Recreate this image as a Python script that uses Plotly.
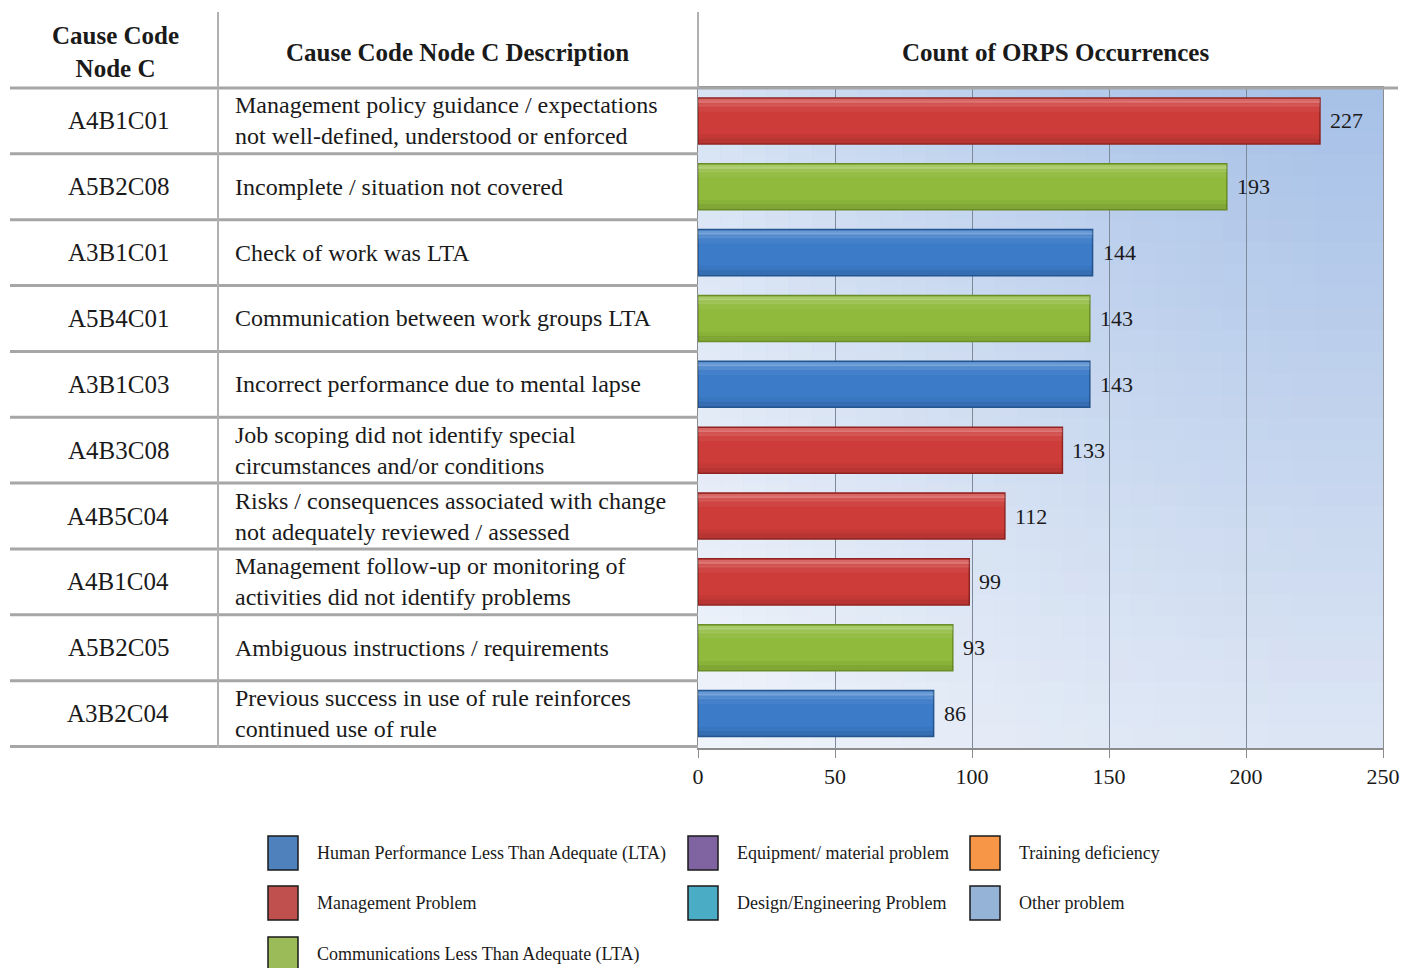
import plotly.graph_objects as go

# ---------------- data ----------------
codes = ["A4B1C01", "A5B2C08", "A3B1C01", "A5B4C01", "A3B1C03",
         "A4B3C08", "A4B5C04", "A4B1C04", "A5B2C05", "A3B2C04"]
descriptions = [
    "Management policy guidance / expectations<br>not well-defined, understood or enforced",
    "Incomplete / situation not covered",
    "Check of work was LTA",
    "Communication between work groups LTA",
    "Incorrect performance due to mental lapse",
    "Job scoping did not identify special<br>circumstances and/or conditions",
    "Risks / consequences associated with change<br>not adequately reviewed / assessed",
    "Management follow-up or monitoring of<br>activities did not identify problems",
    "Ambiguous instructions / requirements",
    "Previous success in use of rule reinforces<br>continued use of rule",
]
counts = [227, 193, 144, 143, 143, 133, 112, 99, 93, 86]
problem_type = ["Management Problem", "Communications Less Than Adequate (LTA)",
                "Human Performance Less Than Adequate (LTA)", "Communications Less Than Adequate (LTA)",
                "Human Performance Less Than Adequate (LTA)", "Management Problem",
                "Management Problem", "Management Problem",
                "Communications Less Than Adequate (LTA)", "Human Performance Less Than Adequate (LTA)"]
x_ticks = [0, 50, 100, 150, 200, 250]

legend_columns = [
    ["Human Performance Less Than Adequate (LTA)", "Management Problem",
     "Communications Less Than Adequate (LTA)"],
    ["Equipment/ material problem", "Design/Engineering Problem"],
    ["Training deficiency", "Other problem"],
]
legend_colors = {
    "Human Performance Less Than Adequate (LTA)": "#4F81BD",
    "Management Problem": "#C0504D",
    "Communications Less Than Adequate (LTA)": "#9BBB59",
    "Equipment/ material problem": "#8064A2",
    "Design/Engineering Problem": "#4BACC6",
    "Training deficiency": "#F79646",
    "Other problem": "#95B3D7",
}
bar_fill = {
    "Human Performance Less Than Adequate (LTA)": "#3B7BC8",
    "Management Problem": "#CD3C39",
    "Communications Less Than Adequate (LTA)": "#8FBA3C",
}
bar_edge = {
    "Human Performance Less Than Adequate (LTA)": "#24558F",
    "Management Problem": "#8F2422",
    "Communications Less Than Adequate (LTA)": "#6A8D27",
}

# ---------------- layout constants ----------------
W, H = 1401, 968
SERIF = "Liberation Serif"
TXT = "#1a1a1a"
def px_x(p): return p / W
def px_y(p): return 1 - p / H

x_dom = [px_x(698), px_x(1383)]
y_dom = [px_y(748), px_y(88)]

fig = go.Figure()
fig.add_trace(go.Bar(
    x=counts, y=codes, orientation="h", width=0.7,
    marker=dict(color=[bar_fill[t] for t in problem_type],
                line=dict(color=[bar_edge[t] for t in problem_type], width=1.5)),
    hoverinfo="x+y", showlegend=False,
))
# soft 3D-style highlight (top) and shade (bottom) layered on the same bars
for off, wid, col in [(-0.335, 0.06, "rgba(255,255,255,0.22)"),
                      (-0.30, 0.08, "rgba(255,255,255,0.12)"),
                      (-0.24, 0.10, "rgba(255,255,255,0.05)"),
                      (0.20, 0.08, "rgba(0,0,0,0.04)"),
                      (0.27, 0.07, "rgba(0,0,0,0.10)")]:
    fig.add_trace(go.Bar(
        x=counts, y=codes, orientation="h", width=wid, offset=off,
        marker=dict(color=col, line_width=0),
        hoverinfo="skip", showlegend=False,
    ))

shapes = []
annotations = []

# background gradient (plot area)
def lerp(c1, c2, t):
    a = [int(c1[i:i + 2], 16) for i in (1, 3, 5)]
    b = [int(c2[i:i + 2], 16) for i in (1, 3, 5)]
    return "#%02x%02x%02x" % tuple(round(a[k] + (b[k] - a[k]) * t) for k in range(3))

n = 30
for i in range(n):
    t = i / (n - 1)
    shapes.append(dict(type="rect", xref="x domain", yref="y domain",
                       x0=0, x1=1, y0=1 - (i + 1) / n, y1=1 - i / n,
                       fillcolor=lerp("#A7C1E7", "#DCE5F4", t), line_width=0, layer="below"))
for i in range(n):
    t = i / (n - 1)
    shapes.append(dict(type="rect", xref="x domain", yref="y domain",
                       x0=i / n, x1=(i + 1) / n, y0=0, y1=1,
                       fillcolor="white", opacity=0.55 * (1 - t) ** 1.5, line_width=0, layer="below"))

# table lines
line_col = "#A6A6A6"
shapes.append(dict(type="line", xref="paper", yref="paper", x0=px_x(10), x1=px_x(1398),
                   y0=px_y(88), y1=px_y(88), line=dict(color=line_col, width=3)))
for i in range(len(codes)):
    shapes.append(dict(type="line", xref="paper", yref="y", x0=px_x(10), x1=px_x(698),
                       y0=i + 0.5, y1=i + 0.5, line=dict(color=line_col, width=3)))
shapes.append(dict(type="line", xref="paper", yref="paper", x0=px_x(218), x1=px_x(218),
                   y0=px_y(12), y1=px_y(748), line=dict(color="#B0B0B0", width=2)))
shapes.append(dict(type="line", xref="paper", yref="paper", x0=px_x(698), x1=px_x(698),
                   y0=px_y(12), y1=px_y(88), line=dict(color="#B0B0B0", width=2)))

# header text
hdr_font = dict(family=SERIF, size=25, color=TXT)
for txt, xc in [("<b>Cause Code<br>Node C</b>", 115),
                ("<b>Cause Code Node C Description</b>", 457),
                ("<b>Count of ORPS Occurrences</b>", 1055)]:
    annotations.append(dict(text=txt, x=px_x(xc), y=px_y(52), xref="paper", yref="paper",
                            xanchor="center", yanchor="middle", align="center",
                            showarrow=False, font=hdr_font))

# table rows
code_font = dict(family=SERIF, size=25, color=TXT)
desc_font = dict(family=SERIF, size=24, color=TXT)
for code, desc, val in zip(codes, descriptions, counts):
    annotations.append(dict(text=code, x=px_x(118), y=code, xref="paper", yref="y",
                            xanchor="center", yanchor="middle", showarrow=False, font=code_font))
    annotations.append(dict(text=desc, x=px_x(233), y=code, xref="paper", yref="y",
                            xanchor="left", yanchor="middle", align="left",
                            showarrow=False, font=desc_font))
    annotations.append(dict(text=str(val), x=val, y=code, xref="x", yref="y",
                            xanchor="left", yanchor="middle", xshift=8, showarrow=False,
                            font=dict(family=SERIF, size=22, color=TXT)))

# legend (manual, 3 columns)
col_x = [268, 688, 970]
row_y = [853, 903, 954]
for c, items in enumerate(legend_columns):
    for r, name in enumerate(items):
        cx, cy = col_x[c], row_y[r]
        shapes.append(dict(type="rect", xref="paper", yref="paper",
                           x0=px_x(cx), x1=px_x(cx + 30), y0=px_y(cy + 17), y1=px_y(cy - 17),
                           fillcolor=legend_colors[name], line=dict(color=TXT, width=1.5)))
        annotations.append(dict(text=name, x=px_x(cx + 47), y=px_y(cy), xref="paper", yref="paper",
                                xanchor="left", yanchor="middle", showarrow=False,
                                font=dict(family=SERIF, size=18, color=TXT)))

fig.update_layout(
    width=W, height=H, autosize=False, margin=dict(l=0, r=0, t=0, b=0, autoexpand=False),
    paper_bgcolor="white", plot_bgcolor="white",
    shapes=shapes, annotations=annotations, barmode="overlay",
    xaxis=dict(domain=x_dom, range=[0, 250], tickvals=x_ticks, showgrid=True,
               gridcolor="#7E8A99", gridwidth=1, zeroline=False,
               showline=True, linecolor="#8C8C8C", linewidth=2, mirror=True,
               ticks="outside", ticklen=8, tickcolor="#8C8C8C",
               tickfont=dict(family=SERIF, size=22, color=TXT)),
    yaxis=dict(domain=y_dom, categoryorder="array", categoryarray=codes,
               autorange="reversed", showticklabels=False, showgrid=False,
               zeroline=False, showline=True, linecolor="#8C8C8C", linewidth=1, mirror=True),
)

fig.write_html("out.html")
